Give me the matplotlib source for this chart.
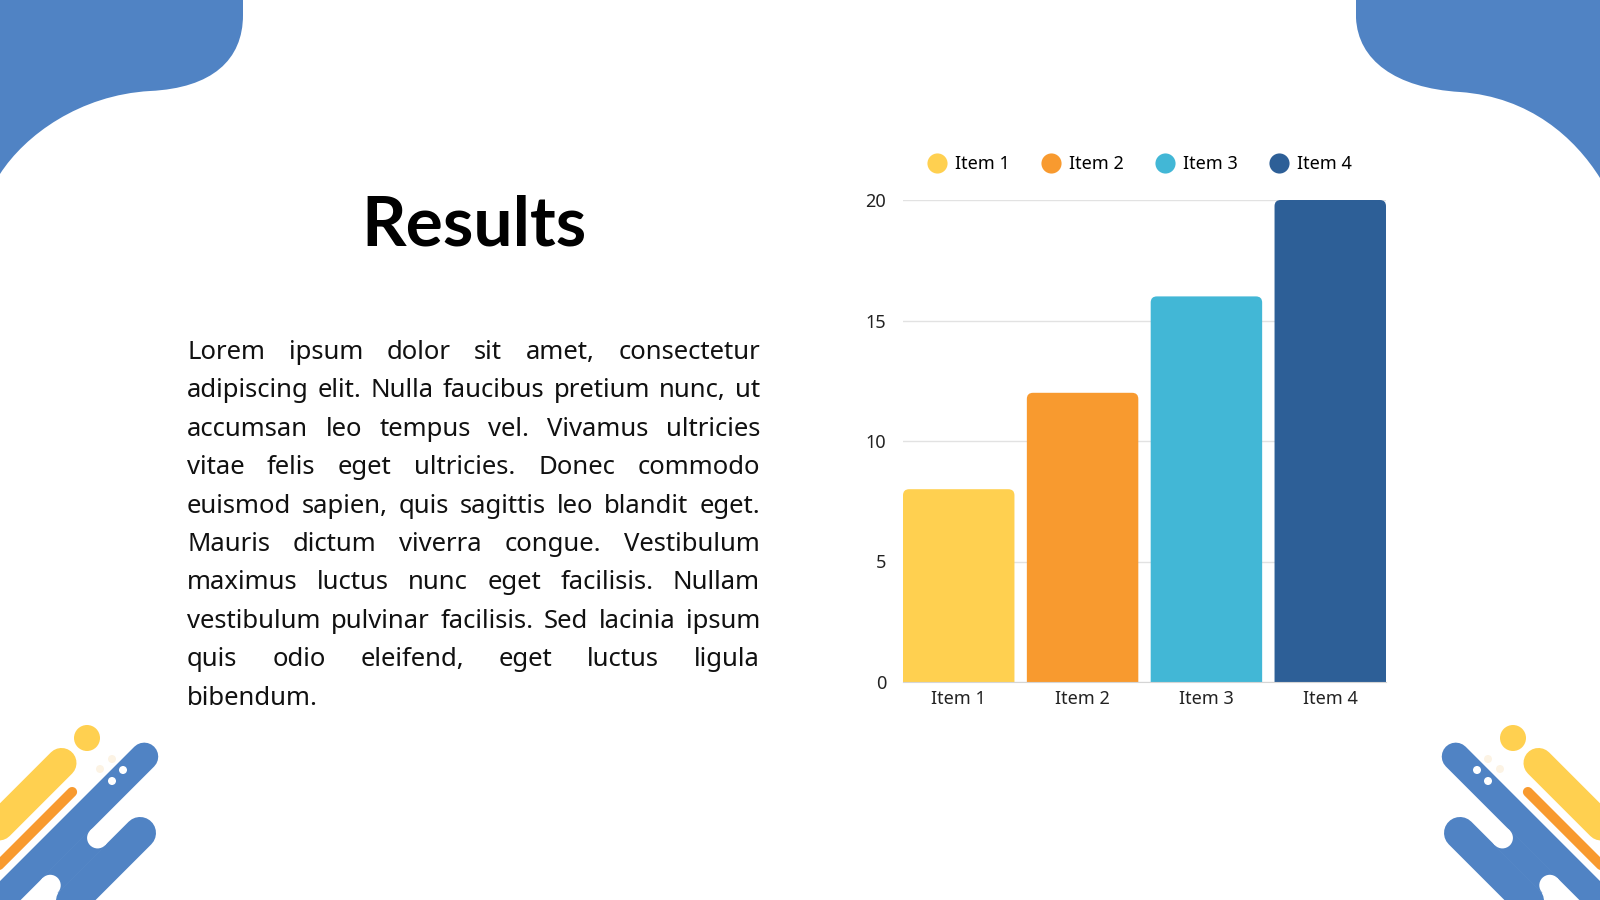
import numpy as np
import matplotlib
matplotlib.use("Agg")
import matplotlib.pyplot as plt
from matplotlib.path import Path
from matplotlib.patches import PathPatch, Circle, FancyBboxPatch
from matplotlib.lines import Line2D

plt.rcParams['font.family'] = ['Noto Sans', 'DejaVu Sans']

# data
items = ["Item 1", "Item 2", "Item 3", "Item 4"]
values = [8, 12, 16, 20]
bar_colors = ["#FFD050", "#F89A2F", "#42B7D6", "#2D5F97"]
yticks = [0, 5, 10, 15, 20]

title = "Results"
body_lines = [
    "Lorem ipsum dolor sit amet, consectetur",
    "adipiscing elit. Nulla faucibus pretium nunc, ut",
    "accumsan leo tempus vel. Vivamus ultricies",
    "vitae felis eget ultricies. Donec commodo",
    "euismod sapien, quis sagittis leo blandit eget.",
    "Mauris dictum viverra congue. Vestibulum",
    "maximus luctus nunc eget facilisis. Nullam",
    "vestibulum pulvinar facilisis. Sed lacinia ipsum",
    "quis odio eleifend, eget luctus ligula",
    "bibendum.",
]

deco_blue = "#5083C4"
deco_yellow = "#FFD050"
deco_orange = "#F89A2F"

fig = plt.figure(figsize=(16, 9), dpi=100)
fig.patch.set_facecolor("white")

# background layer in pixel coords (y down)
bg = fig.add_axes([0, 0, 1, 1], zorder=0)
bg.set_xlim(0, 1600)
bg.set_ylim(900, 0)
bg.axis("off")

# top-left blob
verts = [(0, 0), (243, 0), (243, 15),
         (243, 60), (212, 88), (150, 91),
         (80, 95), (25, 135), (0, 174),
         (0, 0)]
codes = [Path.MOVETO, Path.LINETO, Path.LINETO,
         Path.CURVE4, Path.CURVE4, Path.CURVE4,
         Path.CURVE4, Path.CURVE4, Path.CURVE4,
         Path.CLOSEPOLY]
bg.add_patch(PathPatch(Path(verts, codes), fc=deco_blue, ec="none"))

# top-right blob
verts = [(1600, 0), (1356, 0), (1356, 18),
         (1358, 60), (1395, 88), (1460, 92),
         (1530, 97), (1575, 138), (1600, 178),
         (1600, 0)]
bg.add_patch(PathPatch(Path(verts, codes), fc=deco_blue, ec="none"))


def dn(d, n, mirror):
    x = (-d + n) / np.sqrt(2)
    y = (d + n) / np.sqrt(2)
    if mirror:
        x = 1600 - x
    return x, y


def stripe(n, d0, d1, width, color, mirror, cap="round"):
    x0, y0 = dn(d0, n, mirror)
    x1, y1 = dn(d1, n, mirror)
    bg.plot([x0, x1], [y0, y1], color=color, lw=width * 0.72,
            solid_capstyle=cap, zorder=2)


def dot(x, y, r, color, mirror):
    if mirror:
        x = 1600 - x
    bg.add_patch(Circle((x, y), r, fc=color, ec="none", zorder=4))


for m in [False, True]:
    stripe(583, 496, 1500, 30, deco_yellow, m)
    stripe(611, 509, 1500, 10, deco_orange, m)
    stripe(637, 433, 1500, 28, deco_blue, m)
    stripe(688, 490, 1500, 32, deco_blue, m)
    # bridge between the two blue stripes, with rounded white notches
    stripe(661.5, 523.5, 590.5, 22, deco_blue, m, cap="butt")
    for d in [523.5, 590.5]:
        cx, cy = dn(d, 661.5, m)
        bg.add_patch(Circle((cx, cy), 10.5, fc="white", ec="none", zorder=3))
    dot(87, 738, 13, deco_yellow, m)
    dot(123, 770, 4, "white", m)
    dot(112, 781, 4, "white", m)
    dot(112, 759, 4, "#FCF3E4", m)
    dot(100, 769, 4, "#FCF3E4", m)

# title
bg.text(474, 245, title, fontsize=50, fontweight="bold", ha="center",
        va="baseline", color="black", family=["Lato", "DejaVu Sans"])

# justified body text
renderer = fig.canvas.get_renderer()
left, right = 187, 760
fs = 18.5
for i, line in enumerate(body_lines):
    y = 359 + i * 38.4
    words = line.split()
    if i == len(body_lines) - 1 or len(words) == 1:
        bg.text(left, y, line, fontsize=fs, va="baseline", ha="left", color="#111111")
        continue
    widths = []
    for w in words:
        t = bg.text(0, 0, w, fontsize=fs)
        widths.append(t.get_window_extent(renderer).width)
        t.remove()
    gap = (right - left - sum(widths)) / (len(words) - 1)
    x = left
    for w, wd in zip(words, widths):
        bg.text(x, y, w, fontsize=fs, va="baseline", ha="left", color="#111111")
        x += wd + gap

# chart
ax = fig.add_axes([903 / 1600, 1 - 682 / 900, 483 / 1600, 482 / 900], zorder=2)
ax.patch.set_alpha(0)
xpos = np.arange(len(items))
bars = ax.bar(xpos, values, width=0.9, color=bar_colors, zorder=3)
# swap plain rectangles for ones with rounded tops
for b in bars:
    fb = FancyBboxPatch((b.get_x(), -1), b.get_width(), b.get_height() + 1,
                        boxstyle="round,pad=0,rounding_size=0.05",
                        mutation_aspect=5.1, fc=b.get_facecolor(),
                        ec="none", zorder=3)
    ax.add_patch(fb)
    b.set_visible(False)
ax.set_xlim(-0.45, 3.45)
ax.set_ylim(0, 20)
ax.set_yticks(yticks)
ax.set_xticks(xpos)
ax.set_xticklabels(items)
ax.grid(axis="y", color="#E2E2E2", lw=1, zorder=0)
for s in ["top", "right", "left"]:
    ax.spines[s].set_visible(False)
ax.spines["bottom"].set_color("#D5D5D5")
ax.spines["bottom"].set_zorder(4)
ax.tick_params(length=0, labelsize=13, colors="#222222")
ax.tick_params(axis="y", pad=12)
ax.tick_params(axis="x", pad=6)

handles = [Line2D([], [], marker="o", ls="", markersize=14.5, color=c,
                  markeredgewidth=0) for c in bar_colors]
ax.legend(handles, items, loc="center", bbox_to_anchor=(0.49, 1 + 36 / 482),
          ncol=4, frameon=False, fontsize=13, handletextpad=0.5,
          columnspacing=1.78, handlelength=1.0, borderaxespad=0)

fig.savefig("out.png", dpi=100, facecolor="white")
